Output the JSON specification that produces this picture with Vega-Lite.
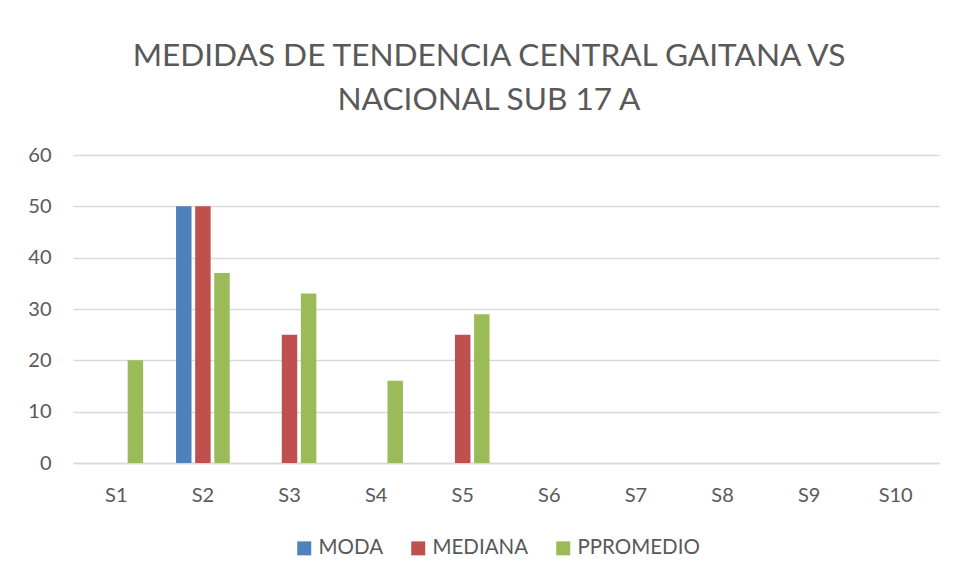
{
  "$schema": "https://vega.github.io/schema/vega-lite/v6.json",
  "width": 866,
  "height": 308,
  "autosize": {"type": "none"},
  "padding": {"left": 73, "top": 155, "right": 17, "bottom": 119},
  "background": "white",
  "title": {
    "text": ["MEDIDAS DE TENDENCIA CENTRAL GAITANA VS", "NACIONAL SUB 17 A"],
    "font": "Lato",
    "fontSize": 31.6,
    "fontWeight": "normal",
    "color": "#595959",
    "anchor": "middle",
    "dx": -17,
    "offset": 28,
    "lineHeight": 44
  },
  "data": {
    "values": [
      {"serie": "S1", "medida": "MODA", "valor": 0},
      {"serie": "S1", "medida": "MEDIANA", "valor": 0},
      {"serie": "S1", "medida": "PPROMEDIO", "valor": 20},
      {"serie": "S2", "medida": "MODA", "valor": 50},
      {"serie": "S2", "medida": "MEDIANA", "valor": 50},
      {"serie": "S2", "medida": "PPROMEDIO", "valor": 37},
      {"serie": "S3", "medida": "MODA", "valor": 0},
      {"serie": "S3", "medida": "MEDIANA", "valor": 25},
      {"serie": "S3", "medida": "PPROMEDIO", "valor": 33},
      {"serie": "S4", "medida": "MODA", "valor": 0},
      {"serie": "S4", "medida": "MEDIANA", "valor": 0},
      {"serie": "S4", "medida": "PPROMEDIO", "valor": 16},
      {"serie": "S5", "medida": "MODA", "valor": 0},
      {"serie": "S5", "medida": "MEDIANA", "valor": 25},
      {"serie": "S5", "medida": "PPROMEDIO", "valor": 29},
      {"serie": "S6", "medida": "MODA", "valor": 0},
      {"serie": "S6", "medida": "MEDIANA", "valor": 0},
      {"serie": "S6", "medida": "PPROMEDIO", "valor": 0},
      {"serie": "S7", "medida": "MODA", "valor": 0},
      {"serie": "S7", "medida": "MEDIANA", "valor": 0},
      {"serie": "S7", "medida": "PPROMEDIO", "valor": 0},
      {"serie": "S8", "medida": "MODA", "valor": 0},
      {"serie": "S8", "medida": "MEDIANA", "valor": 0},
      {"serie": "S8", "medida": "PPROMEDIO", "valor": 0},
      {"serie": "S9", "medida": "MODA", "valor": 0},
      {"serie": "S9", "medida": "MEDIANA", "valor": 0},
      {"serie": "S9", "medida": "PPROMEDIO", "valor": 0},
      {"serie": "S10", "medida": "MODA", "valor": 0},
      {"serie": "S10", "medida": "MEDIANA", "valor": 0},
      {"serie": "S10", "medida": "PPROMEDIO", "valor": 0}
    ]
  },
  "mark": {"type": "bar"},
  "encoding": {
    "x": {
      "field": "serie",
      "type": "nominal",
      "sort": ["S1", "S2", "S3", "S4", "S5", "S6", "S7", "S8", "S9", "S10"],
      "scale": {"paddingInner": 0.38, "paddingOuter": 0.19},
      "axis": {
        "title": null,
        "labelAngle": 0,
        "labelFont": "Lato",
        "labelFontSize": 20,
        "labelColor": "#595959",
        "labelPadding": 22,
        "ticks": false,
        "domainColor": "#d9d9d9",
        "domainWidth": 1.5,
        "grid": false
      }
    },
    "xOffset": {
      "field": "medida",
      "type": "nominal",
      "sort": ["MODA", "MEDIANA", "PPROMEDIO"],
      "scale": {"paddingInner": 0.19, "paddingOuter": 0}
    },
    "y": {
      "field": "valor",
      "type": "quantitative",
      "scale": {"domain": [0, 60]},
      "axis": {
        "title": null,
        "values": [0, 10, 20, 30, 40, 50, 60],
        "labelFont": "Lato",
        "labelFontSize": 20,
        "labelColor": "#595959",
        "labelPadding": 22,
        "ticks": false,
        "domain": false,
        "gridColor": "#d9d9d9",
        "gridWidth": 1.5
      }
    },
    "color": {
      "field": "medida",
      "type": "nominal",
      "sort": ["MODA", "MEDIANA", "PPROMEDIO"],
      "scale": {"domain": ["MODA", "MEDIANA", "PPROMEDIO"], "range": ["#4F81BD", "#C0504D", "#9BBB59"]},
      "legend": {
        "title": null,
        "orient": "none",
        "direction": "horizontal",
        "legendX": 221,
        "legendY": 383,
        "symbolType": "square",
        "symbolSize": 196,
        "symbolStrokeWidth": 0,
        "labelFont": "Lato",
        "labelFontSize": 20.5,
        "labelColor": "#595959",
        "labelOffset": 4,
        "columnPadding": 24
      }
    }
  },
  "config": {
    "view": {"stroke": null}
  }
}
